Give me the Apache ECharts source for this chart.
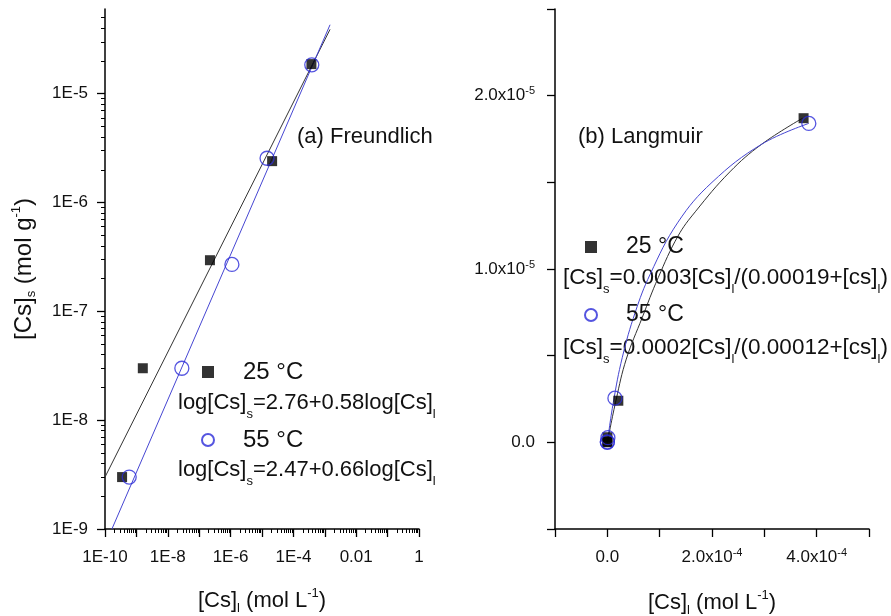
<!DOCTYPE html>
<html><head><meta charset="utf-8">
<script src="https://cdn.jsdelivr.net/npm/echarts@6/dist/echarts.min.js"></script>
<style>html,body{margin:0;padding:0;background:#fff}#c{width:891px;height:616px}</style>
</head><body><div id="c"></div>
<script>
const FONT = '"Liberation Sans", Arial, Helvetica, sans-serif';
const TXT = '#111';
const BLUE = '#2a2ad8';
const BLUE_LINE = '#4646d2';
const BLACK_LINE = '#333';

// ---- data (same measurements shown in both panels) ----
const t25X = [3.5e-10, 1.6e-9, 2.2e-7, 2.1e-5, 3.75e-4];
const t25Y = [3.0e-9, 3.0e-8, 2.95e-7, 2.4e-6, 1.87e-5];
const t55X = [5.9e-10, 2.8e-8, 1.1e-6, 1.45e-5, 3.85e-4];
const t55Y = [3.0e-9, 3.0e-8, 2.7e-7, 2.55e-6, 1.84e-5];

// Freundlich fit lines (end points)
const fit25X = [1e-10, 1.47e-3];
const fit25Y = [3.0e-9, 3.9e-5];
const fit55X = [1.66e-10, 1.47e-3];
const fit55Y = [1e-9, 4.3e-5];

// Langmuir fit curves
const lang25X = [0, 1.71e-5, 3.62e-5, 6.67e-5, 9.72e-5, 1.35e-4, 1.68e-4, 2.34e-4, 2.95e-4, 3.73e-4];
const lang25Y = [0, 2.5e-6, 4.8e-6, 7.2e-6, 9.5e-6, 1.19e-5, 1.33e-5, 1.56e-5, 1.72e-5, 1.87e-5];
const lang55X = [0, 1.14e-5, 2.86e-5, 5.33e-5, 8.19e-5, 1.35e-4, 2.0e-4, 2.95e-4, 3.85e-4];
const lang55Y = [0, 2.3e-6, 4.9e-6, 7.5e-6, 9.7e-6, 1.27e-5, 1.50e-5, 1.72e-5, 1.84e-5];

// ---- ticks / labels ----
const xLeftMajor = [1e-10,1e-9,1e-8,1e-7,1e-6,1e-5,1e-4,1e-3,1e-2,1e-1,1];
const xLeftLabelVals = [1e-10,1e-8,1e-6,1e-4,1e-2,1];
const xLeftLabels = ['1E-10','1E-8','1E-6','1E-4','0.01','1'];
const yLeftMajor = [1e-9,1e-8,1e-7,1e-6,1e-5];
const yLeftLabels = ['1E-9','1E-8','1E-7','1E-6','1E-5'];
const minorMult = [2,3,4,5,6,7,8,9];
const xRightLabelVals = [0, 2e-4, 4e-4];
const xRightLabels = ['0.0','2.0x10{sup|-4}','4.0x10{sup|-4}'];
const yRightLabelVals = [0, 1e-5, 2e-5];
const yRightLabels = ['0.0','1.0x10{sup|-5}','2.0x10{sup|-5}'];

const names = ['25 °C', '55 °C'];
const eqLeft = ['log[Cs]{s|s}=2.76+0.58log[Cs]{s|l}', 'log[Cs]{s|s}=2.47+0.66log[Cs]{s|l}'];
const eqRight = ['[Cs]{s|s}=0.0003[Cs]{s|l}/(0.00019+[cs]{s|l})', '[Cs]{s|s}=0.0002[Cs]{s|l}/(0.00012+[cs]{s|l})'];
const axisNameY = '[Cs]{s|s} (mol g{sup|-1})';
const axisNameX = '[Cs]{s|l} (mol L{sup|-1})';

function minorList(lo, hi) {
  const out = [];
  for (let e = lo; e < hi; e++) minorMult.forEach(m => out.push(m * Math.pow(10, e)));
  return out;
}
const xLeftMinor = minorList(-10, 0);
const yLeftMinor = minorList(-9, -4).filter(v => v <= 6.01e-5);

const zip = (a, b) => a.map((v, i) => [v, b[i]]);
function fmtLog(vals, labels) {
  return v => { for (let i = 0; i < vals.length; i++) if (Math.abs(Math.log10(v) - Math.log10(vals[i])) < 1e-4) return labels[i]; return ''; };
}
function fmtLin(vals, labels, tol) {
  return v => { for (let i = 0; i < vals.length; i++) if (Math.abs(v - vals[i]) < tol) return labels[i]; return ''; };
}
const subRich = {
  s: { fontSize: 13, lineHeight: 13, verticalAlign: 'bottom', fontFamily: FONT, color: TXT },
  sup: { fontSize: 13, lineHeight: 13, verticalAlign: 'top', fontFamily: FONT, color: TXT }
};
const tickRich = { sup: { fontSize: 11, lineHeight: 10, verticalAlign: 'top', fontFamily: FONT, color: TXT } };

const axisLineStyle = { show: true, onZero: false, lineStyle: { color: '#000', width: 1.5 } };
const labelBase = { fontSize: 17, fontFamily: FONT, color: TXT };

const grids = [
  { left: 105, top: 9, width: 314, height: 520, containLabel: false, outerBoundsMode: 'none' },
  { left: 555, top: 9, width: 314, height: 520, containLabel: false, outerBoundsMode: 'none' }
];

const xAxes = [
  { gridIndex: 0, type: 'log', logBase: 10, min: 1e-10, max: 1, splitNumber: 10, position: 'bottom',
    axisLine: axisLineStyle, splitLine: { show: false },
    axisTick: { show: true, inside: false, length: 8, customValues: xLeftMajor, lineStyle: { color: '#000', width: 1.3 } },
    axisLabel: Object.assign({ margin: 20, customValues: xLeftLabelVals, formatter: fmtLog(xLeftLabelVals, xLeftLabels) }, labelBase),
    name: axisNameX, nameLocation: 'middle', nameGap: 58,
    nameTextStyle: { fontSize: 22, fontFamily: FONT, color: TXT, lineHeight: 28, rich: subRich } },
  { gridIndex: 0, type: 'log', logBase: 10, min: 1e-10, max: 1, position: 'bottom',
    axisLine: { show: false, onZero: false }, splitLine: { show: false }, axisLabel: { show: false },
    axisTick: { show: true, length: 4, customValues: xLeftMinor, lineStyle: { color: '#000', width: 1 } } },
  { gridIndex: 1, type: 'value', min: -1e-4, max: 5e-4, interval: 1e-4, position: 'bottom',
    axisLine: axisLineStyle, splitLine: { show: false },
    axisTick: { show: true, length: 8, lineStyle: { color: '#000', width: 1.3 } },
    axisLabel: Object.assign({ margin: 18, lineHeight: 20, rich: tickRich, showMinLabel: true, showMaxLabel: true,
      formatter: fmtLin(xRightLabelVals, xRightLabels, 1e-6) }, labelBase),
    name: axisNameX, nameLocation: 'middle', nameGap: 60,
    nameTextStyle: { fontSize: 22, fontFamily: FONT, color: TXT, lineHeight: 28, rich: subRich } }
];

const yAxes = [
  { gridIndex: 0, type: 'log', logBase: 10, min: 1e-9, max: 6e-5, position: 'left',
    axisLine: axisLineStyle, splitLine: { show: false },
    axisTick: { show: true, length: 8, customValues: yLeftMajor, lineStyle: { color: '#000', width: 1.3 } },
    axisLabel: Object.assign({ margin: 17, customValues: yLeftMajor, formatter: fmtLog(yLeftMajor, yLeftLabels) }, labelBase),
    name: axisNameY, nameLocation: 'middle', nameGap: 67, nameRotate: 90,
    nameTextStyle: { fontSize: 24, fontFamily: FONT, color: TXT, lineHeight: 28, rich: subRich } },
  { gridIndex: 0, type: 'log', logBase: 10, min: 1e-9, max: 6e-5, position: 'left',
    axisLine: { show: false, onZero: false }, splitLine: { show: false }, axisLabel: { show: false },
    axisTick: { show: true, length: 4, customValues: yLeftMinor, lineStyle: { color: '#000', width: 1 } } },
  { gridIndex: 1, type: 'value', min: -5e-6, max: 2.5e-5, interval: 5e-6, position: 'left',
    axisLine: axisLineStyle, splitLine: { show: false },
    axisTick: { show: true, length: 8, lineStyle: { color: '#000', width: 1.3 } },
    axisLabel: Object.assign({ margin: 20, lineHeight: 20, rich: tickRich, showMinLabel: true, showMaxLabel: true,
      formatter: fmtLin(yRightLabelVals, yRightLabels, 1e-8) }, labelBase) }
];

function scatter(name, x, y, xi, yi, isSquare) {
  return {
    name, type: 'scatter', xAxisIndex: xi, yAxisIndex: yi, z: isSquare ? 3 : 4,
    symbol: isSquare ? 'rect' : 'circle', symbolSize: isSquare ? 10 : 14,
    itemStyle: isSquare ? { color: '#000' } : { color: 'rgba(255,255,255,0)', borderColor: BLUE, borderWidth: 1.3 },
    data: zip(x, y)
  };
}
function fitLine(name, x, y, xi, yi, color, smooth) {
  return { name, type: 'line', xAxisIndex: xi, yAxisIndex: yi, z: 2, showSymbol: false, symbol: 'none',
    smooth: smooth, lineStyle: { color, width: 1 }, data: zip(x, y) };
}

const series = [
  fitLine('fitF25', fit25X, fit25Y, 0, 0, BLACK_LINE, false),
  fitLine('fitF55', fit55X, fit55Y, 0, 0, BLUE_LINE, false),
  scatter(names[0], t25X, t25Y, 0, 0, true),
  scatter(names[1], t55X, t55Y, 0, 0, false),
  fitLine('fitL25', lang25X, lang25Y, 2, 2, BLACK_LINE, 0.4),
  fitLine('fitL55', lang55X, lang55Y, 2, 2, BLUE_LINE, 0.4),
  scatter(names[0], t25X, t25Y, 2, 2, true),
  scatter(names[1], t55X, t55Y, 2, 2, false)
];

const legendBase = {
  orient: 'vertical', padding: 0, itemWidth: 12, itemHeight: 12, itemGap: 40,
  selectedMode: false, data: names,
  textStyle: { fontSize: 24, fontFamily: FONT, color: TXT, lineHeight: 28, padding: [0, 0, 0, 24] }
};

function eqText(txt, x, y, size) {
  return { type: 'text', x, y, silent: true,
    style: { text: txt, fontSize: size, fontFamily: FONT, fill: TXT, lineHeight: 36,
      align: 'left', verticalAlign: 'middle', textAlign: 'left', textVerticalAlign: 'middle',
      rich: { s: { fontSize: 13, lineHeight: 13, verticalAlign: 'bottom', fontFamily: FONT, fill: TXT } } } };
}
function plainText(txt, x, y, size) {
  return { type: 'text', x, y, silent: true,
    style: { text: txt, fontSize: size, fontFamily: FONT, fill: TXT,
      align: 'left', verticalAlign: 'middle', textAlign: 'left', textVerticalAlign: 'middle' } };
}

const option = {
  animation: false,
  backgroundColor: '#fff',
  grid: grids,
  xAxis: xAxes,
  yAxis: yAxes,
  legend: [
    Object.assign({ left: 201, top: 358 }, legendBase),
    Object.assign({ left: 584, top: 233 }, legendBase, { textStyle: Object.assign({}, legendBase.textStyle, { fontSize: 23 }) })
  ],
  graphic: [
    plainText('(a) Freundlich', 297, 137, 22),
    plainText('(b) Langmuir', 578, 137, 22),
    eqText(eqLeft[0], 178, 403, 22),
    eqText(eqLeft[1], 178, 470, 22),
    eqText(eqRight[0], 563, 278, 22.5),
    eqText(eqRight[1], 563, 348, 22.5)
  ],
  series
};

const chart = echarts.init(document.getElementById('c'), null, { renderer: 'canvas' });
chart.setOption(option);
</script>
</body></html>
